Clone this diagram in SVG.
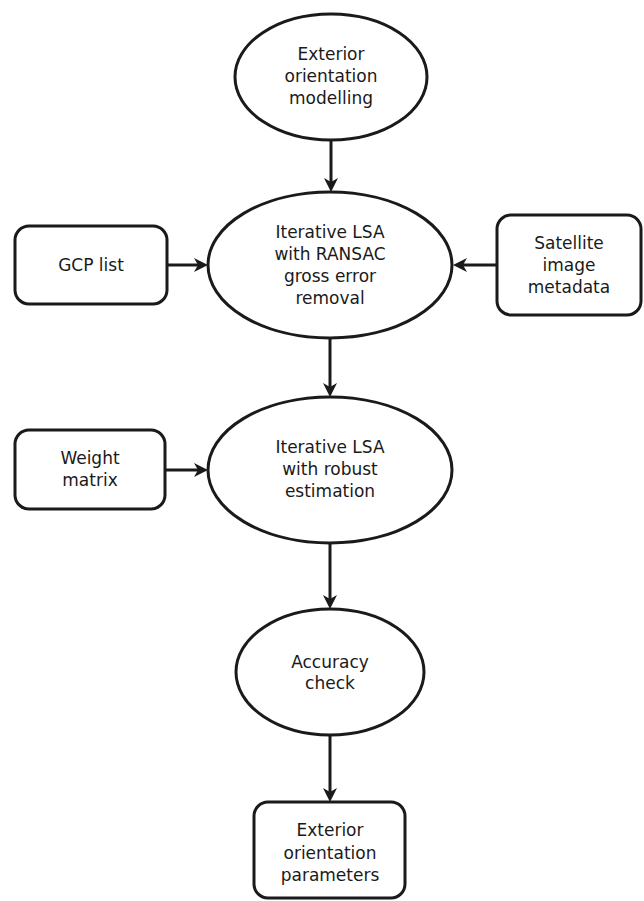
<svg xmlns="http://www.w3.org/2000/svg" width="644" height="901" viewBox="0 0 644 901">
<style>
.shape{fill:#fff;stroke:#1a1a1a;stroke-width:3}
.lbl{font-family:"DejaVu Sans","Liberation Sans",sans-serif;font-size:17px;fill:#1a1a1a;text-anchor:middle;dominant-baseline:central}
.conn{stroke:#1a1a1a;stroke-width:3;fill:none;marker-end:url(#ah)}
</style>
<defs>
<marker id="ah" markerUnits="userSpaceOnUse" markerWidth="14" markerHeight="14" viewBox="0 0 14 14" refX="5" refY="7" orient="auto">
<path d="M0,0 L14,7 L0,14 L4,7 z" fill="#1a1a1a"/>
</marker>
</defs>
<rect width="644" height="901" fill="#fff"/>
<g id="connectors">
<line class="conn" x1="331" y1="140" x2="331" y2="183"/>
<line class="conn" x1="167" y1="265" x2="199" y2="265"/>
<line class="conn" x1="497" y1="265" x2="462" y2="265"/>
<line class="conn" x1="330" y1="338" x2="330" y2="388"/>
<line class="conn" x1="165" y1="470" x2="199" y2="470"/>
<line class="conn" x1="330" y1="543" x2="330" y2="600"/>
<line class="conn" x1="330" y1="735" x2="330" y2="793"/>
</g>
<g id="n-exterior-modelling">
<ellipse class="shape" cx="331" cy="77" rx="96" ry="63"/>
<text class="lbl" x="331" y="54">Exterior</text>
<text class="lbl" x="331" y="76">orientation</text>
<text class="lbl" x="331" y="98">modelling</text>
</g>
<g id="n-gcp-list">
<rect class="shape" x="15" y="226" width="152" height="78" rx="14"/>
<text class="lbl" x="91" y="265">GCP list</text>
</g>
<g id="n-ransac">
<ellipse class="shape" cx="330" cy="265" rx="122" ry="73"/>
<text class="lbl" x="330" y="232">Iterative LSA</text>
<text class="lbl" x="330" y="254">with RANSAC</text>
<text class="lbl" x="330" y="276">gross error</text>
<text class="lbl" x="330" y="298">removal</text>
</g>
<g id="n-satellite">
<rect class="shape" x="497" y="215" width="144" height="100" rx="14"/>
<text class="lbl" x="569" y="243">Satellite</text>
<text class="lbl" x="569" y="265">image</text>
<text class="lbl" x="569" y="287">metadata</text>
</g>
<g id="n-weight">
<rect class="shape" x="15" y="430" width="150" height="79" rx="14"/>
<text class="lbl" x="90" y="458">Weight</text>
<text class="lbl" x="90" y="480">matrix</text>
</g>
<g id="n-robust">
<ellipse class="shape" cx="330" cy="470" rx="122" ry="73"/>
<text class="lbl" x="330" y="447">Iterative LSA</text>
<text class="lbl" x="330" y="469">with robust</text>
<text class="lbl" x="330" y="491">estimation</text>
</g>
<g id="n-accuracy">
<ellipse class="shape" cx="330" cy="672" rx="94" ry="63"/>
<text class="lbl" x="330" y="662">Accuracy</text>
<text class="lbl" x="330" y="683">check</text>
</g>
<g id="n-eo-params">
<rect class="shape" x="254" y="802" width="151" height="96" rx="14"/>
<text class="lbl" x="330" y="830">Exterior</text>
<text class="lbl" x="330" y="853">orientation</text>
<text class="lbl" x="330" y="875">parameters</text>
</g>
</svg>
